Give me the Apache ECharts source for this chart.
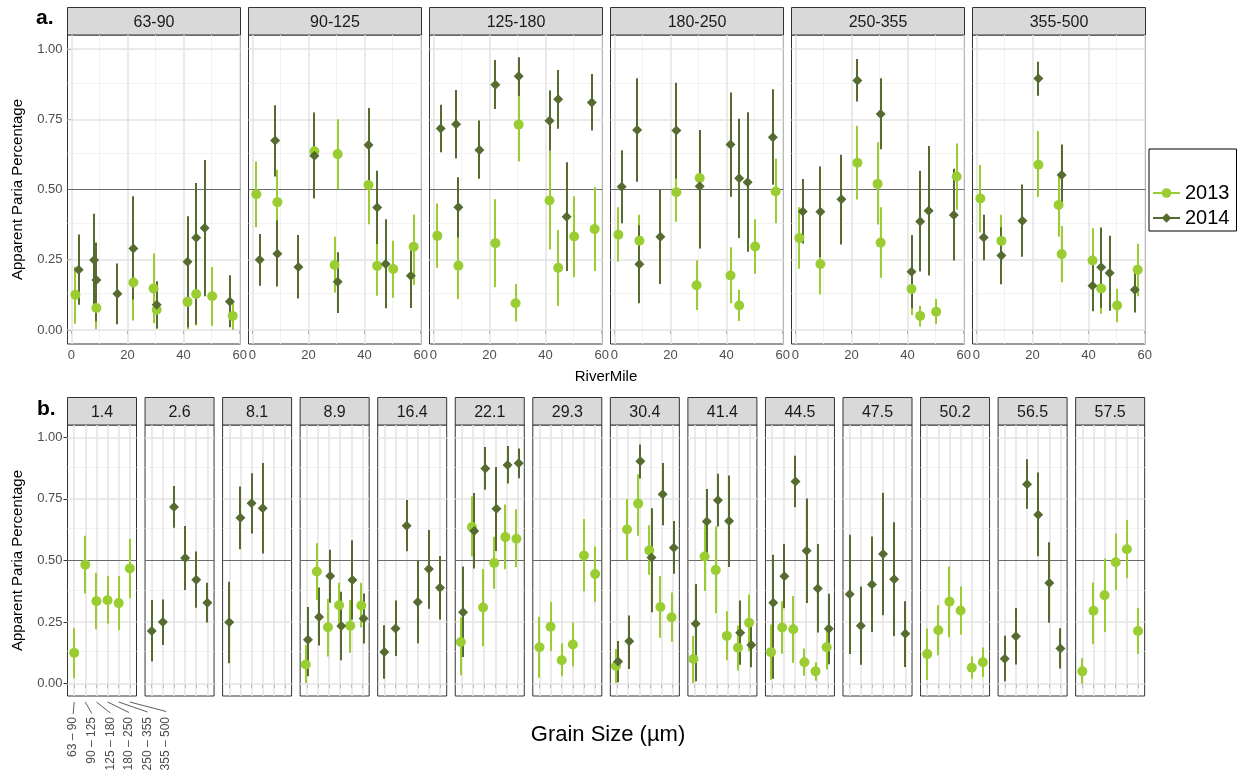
<!DOCTYPE html>
<html>
<head>
<meta charset="utf-8">
<title>Apparent Paria Percentage</title>
<script src="https://cdn.jsdelivr.net/npm/echarts@6/dist/echarts.min.js"></script>
<style>
  html, body { margin: 0; padding: 0; background: #fff; }
  #main { width: 1241px; height: 783px; }
</style>
</head>
<body>
<div id="main"></div>
<script>
// river miles sampled (facets of panel b)
var miles = [1.4, 2.6, 8.1, 8.9, 16.4, 22.1, 29.3, 30.4, 41.4, 44.5, 47.5, 50.2, 56.5, 57.5];
// grain size classes (facets of panel a)
var grains = ['63-90', '90-125', '125-180', '180-250', '250-355', '355-500'];
var grainTicks = ['63 \u2013 90', '90 \u2013 125', '125 \u2013 180', '180 \u2013 250', '250 \u2013 355', '355 \u2013 500'];
var riverTicks = [0, 20, 40, 60];
var yTicks = [0, 0.25, 0.5, 0.75, 1];

// 2013: one row per river mile sampled, one column per grain class
var miles2013 = [1.4, 8.9, 22.1, 29.3, 30.4, 41.4, 44.5, 50.2, 57.5];
var est2013 = [
  [0.125, 0.483, 0.335, 0.339, 0.327, 0.468],
  [0.078, 0.455, 0.229, 0.318, 0.235, 0.317],
  [0.169, 0.636, 0.309, 0.490, 0.595, 0.588],
  [0.148, 0.231, 0.095, 0.159, 0.520, 0.445],
  [0.072, 0.626, 0.731, 0.541, 0.311, 0.270],
  [0.100, 0.516, 0.461, 0.194, 0.146, 0.247],
  [0.128, 0.228, 0.221, 0.087, 0.050, 0.148],
  [0.120, 0.217, 0.333, 0.297, 0.065, 0.087],
  [0.050, 0.296, 0.359, 0.493, 0.546, 0.214]
];
var lo2013 = [
  [0.022, 0.366, 0.221, 0.243, 0.218, 0.347],
  [0.003, 0.340, 0.110, 0.232, 0.126, 0.228],
  [0.034, 0.516, 0.152, 0.385, 0.464, 0.473],
  [0.024, 0.133, 0.030, 0.071, 0.375, 0.332],
  [0.003, 0.501, 0.600, 0.442, 0.186, 0.170],
  [0.003, 0.376, 0.286, 0.095, 0.053, 0.132],
  [0.016, 0.122, 0.085, 0.032, 0.012, 0.058],
  [0.015, 0.115, 0.188, 0.200, 0.020, 0.027],
  [0.000, 0.160, 0.210, 0.380, 0.428, 0.120]
];
var hi2013 = [
  [0.225, 0.600, 0.450, 0.437, 0.437, 0.587],
  [0.157, 0.570, 0.345, 0.410, 0.340, 0.410],
  [0.270, 0.760, 0.465, 0.596, 0.727, 0.708],
  [0.272, 0.332, 0.164, 0.248, 0.668, 0.557],
  [0.141, 0.750, 0.850, 0.643, 0.437, 0.370],
  [0.195, 0.645, 0.638, 0.294, 0.236, 0.362],
  [0.240, 0.335, 0.356, 0.143, 0.086, 0.236],
  [0.224, 0.318, 0.476, 0.394, 0.110, 0.147],
  [0.103, 0.411, 0.508, 0.610, 0.664, 0.307]
];

// 2014
var miles2014 = [2.6, 8.1, 8.9, 16.4, 22.1, 30.4, 41.4, 44.5, 47.5, 56.5];
var est2014 = [
  [0.214, 0.250, 0.717, 0.510, 0.422, 0.329],
  [0.249, 0.674, 0.732, 0.712, null, null],
  [0.178, 0.271, 0.437, 0.234, 0.421, 0.265],
  [0.129, 0.224, 0.641, 0.332, 0.465, 0.389],
  [0.290, 0.620, 0.873, 0.710, 0.888, 0.895],
  [0.090, 0.172, 0.903, 0.512, 0.769, 0.552],
  [0.243, 0.658, 0.745, 0.660, 0.207, 0.157],
  [0.328, 0.436, 0.821, 0.540, 0.386, 0.223],
  [0.363, 0.235, 0.403, 0.526, 0.424, 0.203],
  [0.101, 0.193, 0.810, 0.686, 0.409, 0.143]
];
var lo2014 = [
  [0.090, 0.157, 0.633, 0.380, 0.308, 0.248],
  [0.083, 0.546, 0.610, 0.528, null, null],
  [0.030, 0.155, 0.329, 0.095, 0.260, 0.163],
  [0.020, 0.112, 0.538, 0.164, 0.304, 0.261],
  [0.108, 0.468, 0.787, 0.539, 0.813, 0.834],
  [0.006, 0.060, 0.833, 0.290, 0.643, 0.446],
  [0.010, 0.520, 0.638, 0.474, 0.077, 0.067],
  [0.020, 0.306, 0.716, 0.327, 0.208, 0.079],
  [0.120, 0.077, 0.210, 0.278, 0.194, 0.068],
  [0.010, 0.078, 0.710, 0.517, 0.247, 0.062]
];
var hi2014 = [
  [0.340, 0.342, 0.802, 0.640, 0.537, 0.410],
  [0.414, 0.800, 0.854, 0.896, null, null],
  [0.311, 0.390, 0.544, 0.373, 0.582, 0.366],
  [0.237, 0.338, 0.746, 0.499, 0.624, 0.518],
  [0.476, 0.774, 0.961, 0.880, 0.965, 0.955],
  [0.173, 0.277, 0.971, 0.712, 0.896, 0.660],
  [0.405, 0.790, 0.852, 0.845, 0.338, 0.247],
  [0.523, 0.567, 0.925, 0.752, 0.567, 0.365],
  [0.605, 0.394, 0.597, 0.775, 0.655, 0.335],
  [0.195, 0.307, 0.911, 0.857, 0.574, 0.225]
];

var FONT = '"Liberation Sans", Arial, Helvetica, sans-serif';
var years = [
  { name: '2013', miles: miles2013, est: est2013, lo: lo2013, hi: hi2013, color: '#9acd32', symbol: 'circle', size: 10 },
  { name: '2014', miles: miles2014, est: est2014, lo: lo2014, hi: hi2014, color: '#556b2f', symbol: 'diamond', size: 10 }
];

// panel layout
var topRow = { x0: 67.5, step: 181, w: 173, y: 35, h: 309 };
var botRow = { x0: 67.5, step: 77.55, w: 69, y: 425, h: 271 };
var stripH = 27.5;

var grids = [], xAxes = [], yAxes = [], series = [], graphics = [];

function gridLines(vMajor, vMinor) {
  var major = { color: '#e3e3e3', width: 1.5, type: 'solid' };
  var minor = { color: '#f1f1f1', width: 0.9, type: 'solid' };
  var d = [];
  [0.125, 0.375, 0.625, 0.875].forEach(function (v) { d.push({ yAxis: v, lineStyle: minor }); });
  vMinor.forEach(function (v) { d.push({ xAxis: v, lineStyle: minor }); });
  [0, 0.25, 0.75, 1].forEach(function (v) { d.push({ yAxis: v, lineStyle: major }); });
  vMajor.forEach(function (v) { d.push({ xAxis: v, lineStyle: major }); });
  d.push({ yAxis: 0.5, lineStyle: { color: '#6b6b6b', width: 1.2, type: 'solid' } });
  return d;
}

function addPanel(row, i, label, first, xMin, xMax, xTicks, vMajor, vMinor, showXLabels) {
  var gi = grids.length;
  var left = row.x0 + row.step * i;
  grids.push({ left: left, top: row.y, width: row.w, height: row.h, show: true,
    borderColor: '#333', borderWidth: 1, backgroundColor: '#fff' });
  graphics.push({ type: 'rect', shape: { x: left, y: row.y - stripH, width: row.w, height: stripH },
    style: { fill: '#d9d9d9', stroke: '#333', lineWidth: 1 } });
  graphics.push({ type: 'text', x: left + row.w / 2, y: row.y - stripH / 2 + 1,
    style: { text: label, fill: '#1a1a1a', fontSize: 16, fontFamily: FONT, align: 'center', verticalAlign: 'middle' } });

  xAxes.push({ type: 'value', gridIndex: gi, min: xMin, max: xMax,
    axisLine: { show: false }, splitLine: { show: false },
    axisTick: { show: true, customValues: xTicks, length: 4, lineStyle: { color: '#333', width: 1 } },
    axisLabel: { show: showXLabels, customValues: xTicks, color: '#4d4d4d', fontSize: 13, fontFamily: FONT, margin: 5 } });
  yAxes.push({ type: 'value', gridIndex: gi, min: -0.05, max: 1.05,
    axisLine: { show: false }, splitLine: { show: false },
    axisTick: { show: first, customValues: yTicks, length: 4, lineStyle: { color: '#333', width: 1 } },
    axisLabel: { show: first, customValues: yTicks, color: '#4d4d4d', fontSize: 13, fontFamily: FONT, margin: 5,
      formatter: function (v) { return v.toFixed(2); } },
    name: first ? 'Apparent Paria Percentage' : '', nameLocation: 'middle', nameGap: 42,
    nameTextStyle: { fontSize: 15, color: '#000', fontFamily: FONT } });

  // panel grid lines and the 0.5 reference line, kept under the marks
  series.push({ type: 'scatter', xAxisIndex: gi, yAxisIndex: gi, data: [], silent: true, z: 1,
    markLine: { z: 1, silent: true, symbol: ['none', 'none'], animation: false, label: { show: false },
      emphasis: { disabled: true }, data: gridLines(vMajor, vMinor) } });
  return gi;
}

function addYear(gi, y, bars, pts) {
  series.push({ type: 'custom', name: y.name + ' interval', xAxisIndex: gi, yAxisIndex: gi, z: 8,
    data: bars, encode: { x: 0, y: [1, 2] }, silent: true,
    renderItem: function (params, api) {
      var x = api.value(0);
      var a = api.coord([x, api.value(1)]);
      var b = api.coord([x, api.value(2)]);
      var px = Math.round(a[0]);
      return { type: 'line', shape: { x1: px, y1: a[1], x2: px, y2: b[1] },
        style: { stroke: y.color, lineWidth: 2 } };
    } });
  series.push({ type: 'scatter', name: y.name + ' estimate', xAxisIndex: gi, yAxisIndex: gi, z: 9,
    data: pts, symbol: y.symbol, symbolSize: y.size, silent: true,
    itemStyle: { color: y.color, opacity: 1 } });
}

// legend carriers (line + symbol icons)
years.forEach(function (y) {
  series.push({ type: 'line', name: y.name, xAxisIndex: 0, yAxisIndex: 0, data: [],
    symbol: y.symbol, symbolSize: y.size, itemStyle: { color: y.color }, lineStyle: { color: y.color, width: 2 } });
});

// a. one panel per grain class, x = river mile
grains.forEach(function (g, k) {
  var gi = addPanel(topRow, k, g, k === 0, -1.4, 60.3, riverTicks, riverTicks, [10, 30, 50], true);
  years.forEach(function (y) {
    var bars = [], pts = [];
    y.miles.forEach(function (m, r) {
      if (y.est[r][k] == null) return;
      bars.push([m, y.lo[r][k], y.hi[r][k]]);
      pts.push([m, y.est[r][k]]);
    });
    addYear(gi, y, bars, pts);
  });
});

// b. one panel per river mile, x = grain class
var grainPos = [1, 2, 3, 4, 5, 6];
miles.forEach(function (m, i) {
  var gi = addPanel(botRow, i, String(m), i === 0, 0.4, 6.6, grainPos, grainPos, [], false);
  var present = years.filter(function (y) { return y.miles.indexOf(m) >= 0; });
  years.forEach(function (y, yi) {
    var r = y.miles.indexOf(m);
    if (r < 0) return;
    var off = present.length > 1 ? (yi === 0 ? -0.1 : 0.1) : 0;
    var bars = [], pts = [];
    grainPos.forEach(function (p, k) {
      if (y.est[r][k] == null) return;
      bars.push([p + off, y.lo[r][k], y.hi[r][k]]);
      pts.push([p + off, y.est[r][k]]);
    });
    addYear(gi, y, bars, pts);
  });
});

var chart = echarts.init(document.getElementById('main'));
chart.setOption({
  animation: false,
  backgroundColor: '#fff',
  textStyle: { fontFamily: FONT },
  grid: grids,
  xAxis: xAxes,
  yAxis: yAxes,
  series: series,
  legend: {
    data: ['2013', '2014'], orient: 'vertical', left: 1149, top: 149,
    padding: [34, 7, 3, 3], itemGap: 5, itemWidth: 27, itemHeight: 12,
    borderColor: '#000', borderWidth: 1, backgroundColor: '#fff',
    selectedMode: false,
    textStyle: { fontSize: 20, color: '#000', fontFamily: FONT }
  }
});

// titles and panel tags
graphics.push({ type: 'text', x: 36, y: 8, style: { text: 'a.', fontSize: 21, fontWeight: 'bold', fontFamily: FONT, fill: '#000' } });
graphics.push({ type: 'text', x: 37, y: 399, style: { text: 'b.', fontSize: 21, fontWeight: 'bold', fontFamily: FONT, fill: '#000' } });
graphics.push({ type: 'text', x: 606, y: 377, style: { text: 'RiverMile', fontSize: 15, fontFamily: FONT, fill: '#000', align: 'center', verticalAlign: 'middle' } });
graphics.push({ type: 'text', x: 608, y: 735, style: { text: 'Grain Size (\u00b5m)', fontSize: 22, fontFamily: FONT, fill: '#000', align: 'center', verticalAlign: 'middle' } });
graphics.push({ type: 'text', x: 1155, y: 152, style: { text: 'Year', fontSize: 23, fontFamily: FONT, fill: '#000' } });

// grain class labels under the first panel of b., fanned out with leader lines
var firstB = grains.length;
var tickBottom = botRow.y + botRow.h + 6;
var tx0 = chart.convertToPixel({ xAxisIndex: firstB }, 1);
grainTicks.forEach(function (t, k) {
  var tx = chart.convertToPixel({ xAxisIndex: firstB }, k + 1);
  var lx = tx0 - 1 + k * 18.6;
  graphics.push({ type: 'line', shape: { x1: tx, y1: tickBottom, x2: lx, y2: tickBottom + 12 - k * 0.5 },
    style: { stroke: '#333', lineWidth: 0.8 } });
  graphics.push({ type: 'text', x: lx, y: 717, rotation: Math.PI / 2,
    style: { text: t, fontSize: 12, fontFamily: FONT, fill: '#4d4d4d', align: 'right', verticalAlign: 'middle' } });
});

chart.setOption({ graphic: { elements: graphics } });
</script>
</body>
</html>
